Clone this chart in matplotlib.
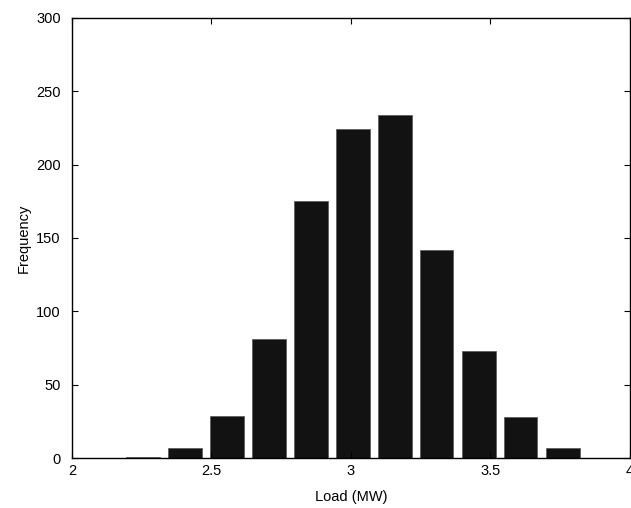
import matplotlib
matplotlib.use("Agg")
import matplotlib.pyplot as plt

plt.rcParams['font.family'] = ['Liberation Sans', 'DejaVu Sans']

# histogram bin centres (MW) and counts
centers = [2.255, 2.405, 2.556, 2.706, 2.857, 3.007, 3.158, 3.308, 3.459, 3.609, 3.760]
counts = [1, 7, 29, 81, 175, 224, 234, 142, 73, 28, 7]
xticks = [2, 2.5, 3, 3.5, 4]
yticks = [0, 50, 100, 150, 200, 250, 300]

fig = plt.figure(figsize=(6.31, 5.08), dpi=100)
ax = fig.add_axes([0.114, 0.098, 0.884, 0.867])

ax.bar(centers, counts, width=0.12, color='#121212', edgecolor='#555555', linewidth=0.5)

ax.set_xlim(2, 4)
ax.set_ylim(0, 300)
ax.set_xticks(xticks)
ax.set_xticklabels(['2', '2.5', '3', '3.5', '4'])
ax.set_yticks(yticks)
ax.tick_params(direction='in', top=True, right=True, labelsize=10.5, length=4, width=0.8)
ax.tick_params(axis='y', pad=8)
ax.tick_params(axis='x', pad=4)
for s in ax.spines.values():
    s.set_linewidth(1.0)

ax.set_xlabel('Load (MW)', fontsize=10.5, labelpad=9)
ax.set_ylabel('Frequency', fontsize=10.5, labelpad=4)

fig.savefig('out.png', dpi=100)
